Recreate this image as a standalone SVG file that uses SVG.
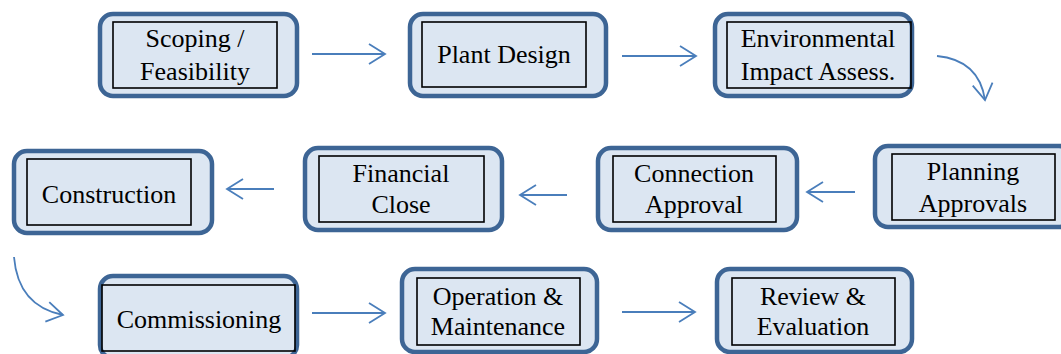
<svg xmlns="http://www.w3.org/2000/svg" width="1061" height="354" viewBox="0 0 1061 354">
<defs>
<style>
.outer{fill:#dce6f2;stroke:#3d6595;stroke-width:4.5}
.inner{fill:none;stroke:#000;stroke-width:1.6}
.t{font-family:'Liberation Serif','Times New Roman','DejaVu Serif',serif;font-size:26px;fill:#000;text-anchor:middle}
.c{fill:none;stroke:#4a7ebb;stroke-width:1.8}
</style>
<marker id="ah" markerUnits="userSpaceOnUse" viewBox="0 0 18 22" refX="17" refY="11" markerWidth="18" markerHeight="22" orient="auto" overflow="visible">
<path d="M1,1 L17,11 L1,21" fill="none" stroke="#4a7ebb" stroke-width="1.8"/>
</marker>
</defs>
<rect width="1061" height="354" fill="#fff"/>
<g id="connectors">
<line class="c" x1="312" y1="54" x2="385" y2="54" marker-end="url(#ah)"/>
<line class="c" x1="622" y1="56" x2="696" y2="56" marker-end="url(#ah)"/>
<path class="c" d="M937,56 Q979,60 985,100" marker-end="url(#ah)"/>
<line class="c" x1="855" y1="192" x2="807" y2="192" marker-end="url(#ah)"/>
<line class="c" x1="567" y1="195" x2="520" y2="195" marker-end="url(#ah)"/>
<line class="c" x1="274" y1="189" x2="227" y2="189" marker-end="url(#ah)"/>
<path class="c" d="M14,257 Q18,306 63,315" marker-end="url(#ah)"/>
<line class="c" x1="312" y1="313" x2="385" y2="313" marker-end="url(#ah)"/>
<line class="c" x1="622" y1="312" x2="695" y2="312" marker-end="url(#ah)"/>
</g>
<g id="scoping">
<rect class="outer" x="100" y="14" width="197" height="82" rx="13"/>
<rect class="inner" x="113" y="22" width="164" height="66"/>
<text class="t" x="195" y="47">Scoping /</text>
<text class="t" x="195" y="80">Feasibility</text>
</g>
<g id="plant-design">
<rect class="outer" x="410" y="14" width="196" height="82" rx="13"/>
<rect class="inner" x="422" y="22" width="164" height="65"/>
<text class="t" x="504" y="63">Plant Design</text>
</g>
<g id="environmental">
<rect class="outer" x="715" y="14" width="197" height="82" rx="13"/>
<rect class="inner" x="727" y="22" width="184" height="66"/>
<text class="t" x="818" y="47">Environmental</text>
<text class="t" x="818" y="80">Impact Assess.</text>
</g>
<g id="planning">
<rect class="outer" x="875" y="146" width="197" height="81" rx="13"/>
<rect class="inner" x="892" y="154" width="163" height="66"/>
<text class="t" x="973" y="180">Planning</text>
<text class="t" x="973" y="212">Approvals</text>
</g>
<g id="connection">
<rect class="outer" x="598" y="148" width="199" height="82" rx="13"/>
<rect class="inner" x="613" y="156" width="163" height="66"/>
<text class="t" x="694" y="182">Connection</text>
<text class="t" x="694" y="213">Approval</text>
</g>
<g id="financial">
<rect class="outer" x="305" y="148" width="197" height="82" rx="13"/>
<rect class="inner" x="319" y="156" width="165" height="66"/>
<text class="t" x="401" y="182">Financial</text>
<text class="t" x="401" y="213">Close</text>
</g>
<g id="construction">
<rect class="outer" x="14" y="151" width="198" height="82" rx="13"/>
<rect class="inner" x="27" y="159" width="164" height="66"/>
<text class="t" x="109" y="203">Construction</text>
</g>
<g id="commissioning">
<rect class="outer" x="100" y="276" width="197" height="82" rx="13"/>
<rect class="inner" x="102" y="285" width="193" height="66"/>
<text class="t" x="199" y="328">Commissioning</text>
</g>
<g id="operation">
<rect class="outer" x="402" y="269" width="195" height="83" rx="13"/>
<rect class="inner" x="417" y="278" width="163" height="67"/>
<text class="t" x="498" y="305">Operation &amp;</text>
<text class="t" x="498" y="335">Maintenance</text>
</g>
<g id="review">
<rect class="outer" x="717" y="269" width="195" height="83" rx="13"/>
<rect class="inner" x="732" y="278" width="163" height="67"/>
<text class="t" x="813" y="305">Review &amp;</text>
<text class="t" x="813" y="335">Evaluation</text>
</g>
</svg>
